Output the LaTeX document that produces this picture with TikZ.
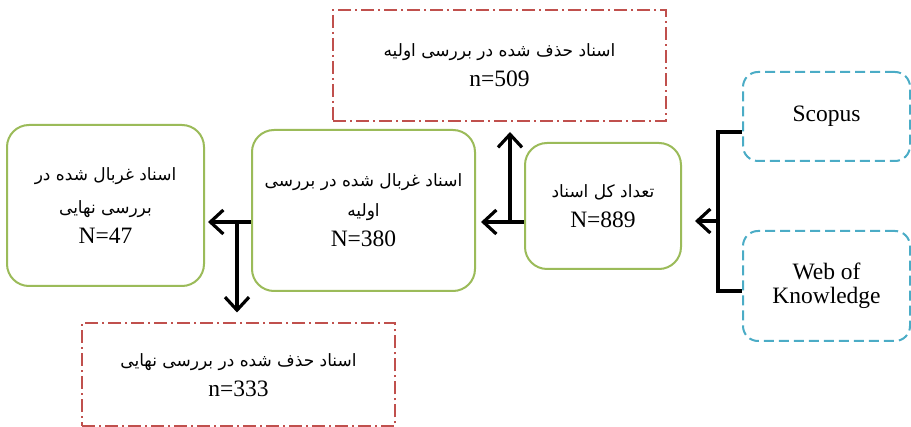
\documentclass[tikz,border=0pt]{standalone}
\usepackage{fontspec}
\setmainfont{Liberation Serif}
\newfontfamily\persianfont[Script=Arabic]{DejaVu Sans}
\TeXXeTstate=1
\usetikzlibrary{arrows.meta}
\definecolor{boxgreen}{HTML}{9BBB59}
\definecolor{boxred}{HTML}{C0504D}
\definecolor{boxblue}{HTML}{4BACC6}
\newcommand{\fatext}[1]{{\persianfont\fontsize{17}{30}\selectfont\beginR #1\endR}}
\tikzset{
  base/.style={inner sep=0pt, align=center, font=\fontsize{23.5}{30}\selectfont},
  greenbox/.style={base, draw=boxgreen, line width=2pt, rounded corners=22pt},
  redbox/.style={base, draw=boxred, line width=2pt, dash pattern=on 13pt off 4pt on 2pt off 4pt},
  bluebox/.style={base, draw=boxblue, line width=2pt, rounded corners=15pt, dash pattern=on 10pt off 5pt},
  arr/.style={line width=3.2pt, -{Straight Barb[length=13pt,width=24pt,line width=3.2pt]}},
  bracket/.style={line width=3.2pt}
}
\begin{document}
\begin{tikzpicture}[x=1pt,y=-1pt]
\useasboundingbox (0,0) rectangle (911,427);
\node[redbox, minimum width=333pt, minimum height=111pt] (del1) at (499.5,65.5)
  {\fatext{اسناد حذف شده در بررسی اولیه}\\n=509};
\node[greenbox, minimum width=197pt, minimum height=161pt] (fin) at (105.5,205.5)
  {\fatext{اسناد غربال شده در}\\[3pt]\fatext{بررسی نهایی}\\N=47};
\node[greenbox, minimum width=223pt, minimum height=161pt] (mid) at (363.5,210.5)
  {\fatext{اسناد غربال شده در بررسی}\\\fatext{اولیه}\\N=380};
\node[greenbox, minimum width=156pt, minimum height=126pt] (total) at (603,206)
  {\fatext{تعداد کل اسناد}\\N=889};
\node[bluebox, minimum width=167pt, minimum height=89pt] (scopus) at (826.5,116.5)
  {Scopus};
\node[bluebox, minimum width=167pt, minimum height=110pt, font=\fontsize{23.5}{24}\selectfont] (wok) at (826.5,286)
  {Web of\\Knowledge};
\node[redbox, minimum width=313pt, minimum height=103pt] (del2) at (238.5,375)
  {\fatext{اسناد حذف شده در بررسی نهایی}\\n=333};
% bracket joining the two sources
\coordinate (brk) at (718,221);
\coordinate (brktip) at (695,221);
\draw[bracket] ([yshift=-15.5pt]scopus.west) -| (brk) |- ([yshift=-5pt]wok.west);
\draw[arr] (brk) -- (brktip);
% from total to first screening
\coordinate (j1) at (510,222);
\draw[arr] (total.west |- j1) -- ([xshift=5pt]mid.east |- j1);
\draw[arr] (j1) -- ([yshift=-10pt]del1.south -| j1);
% from first screening to final
\coordinate (j2) at (237,222);
\draw[arr] (mid.west |- j2) -- ([xshift=3pt]fin.east |- j2);
\draw[arr] (j2) -- ([yshift=10pt]del2.north -| j2);
\end{tikzpicture}
\end{document}
